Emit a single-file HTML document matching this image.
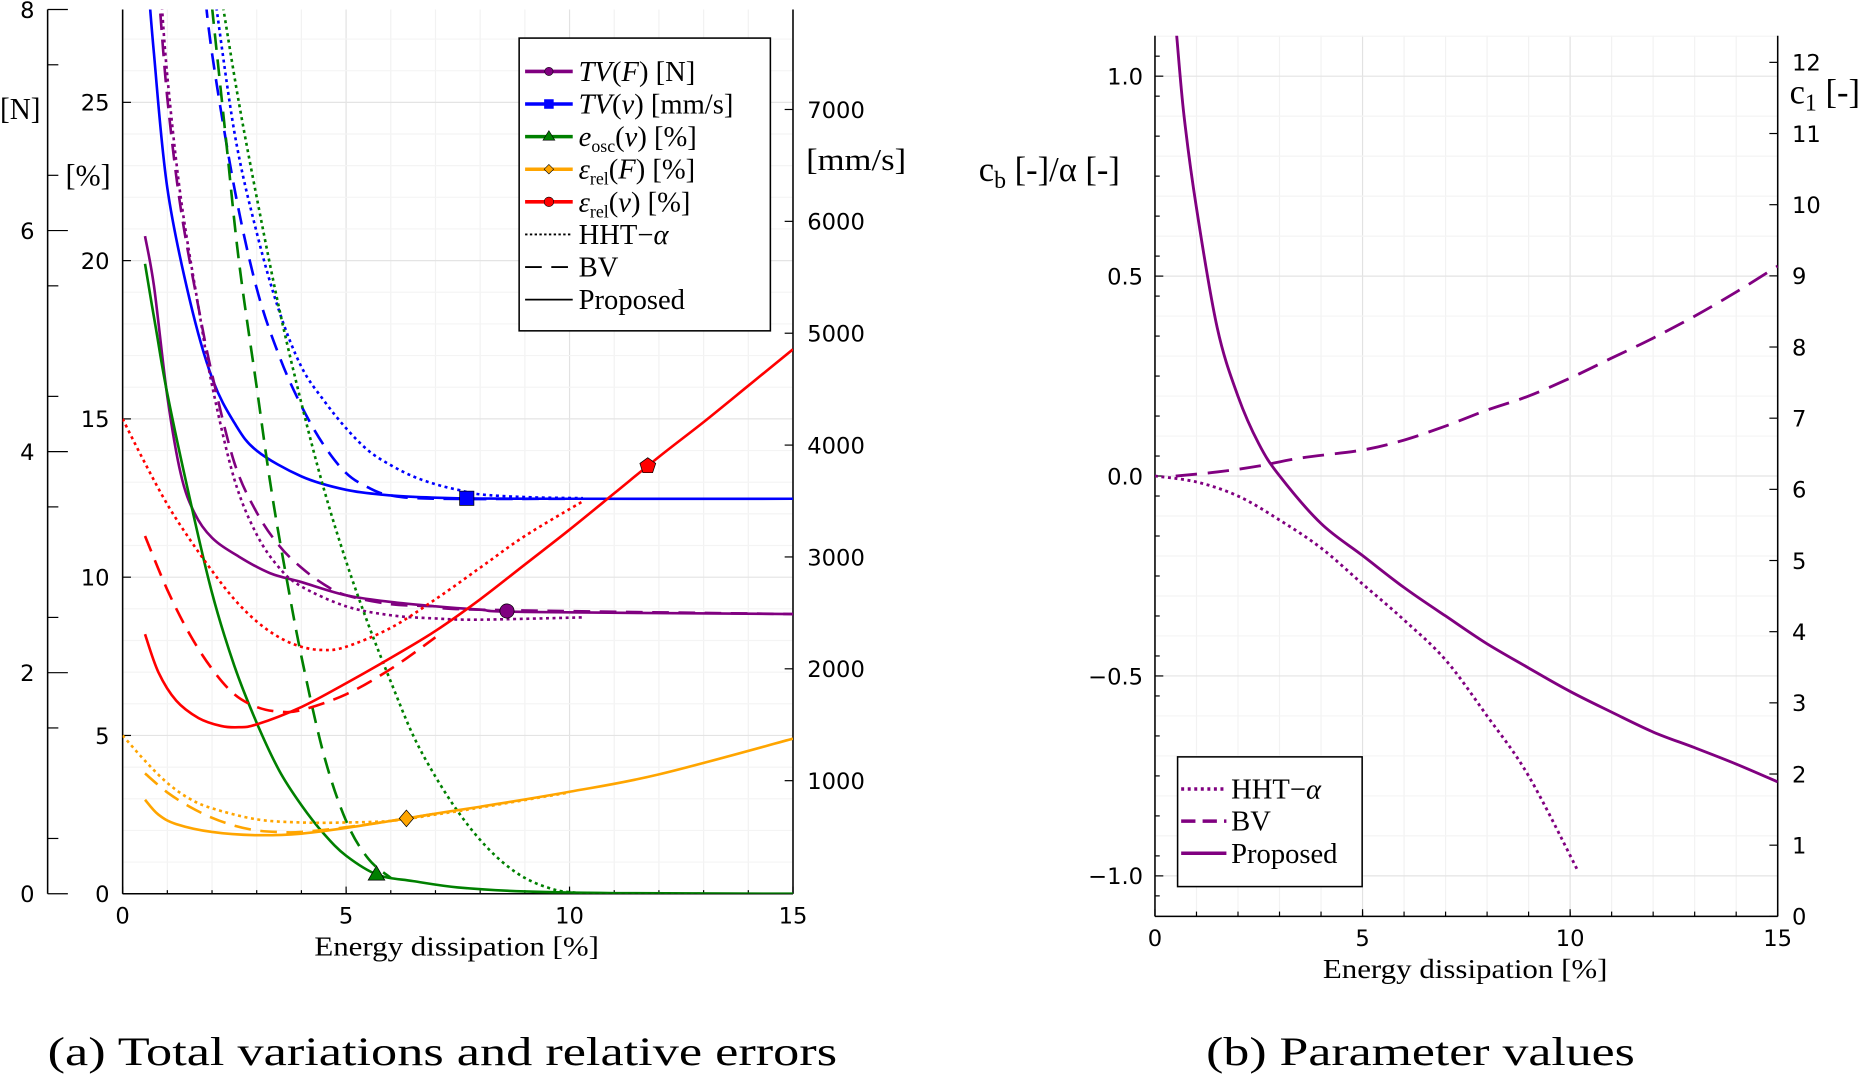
<!DOCTYPE html>
<html><head><meta charset="utf-8"><style>
html,body{margin:0;padding:0;background:#fff;}
svg{display:block;}
.tk{font-family:"DejaVu Sans","Liberation Sans",sans-serif;font-size:19px;fill:#000;}
.sf{font-family:"Liberation Serif","DejaVu Serif",serif;fill:#000;}
</style></head><body>
<svg id="chart" width="1867" height="1077" viewBox="0 0 1568 905" preserveAspectRatio="none" xmlns="http://www.w3.org/2000/svg">
<defs>
<clipPath id="clipA"><rect x="103" y="8" width="563" height="743"/></clipPath>
<clipPath id="clipB"><rect x="970" y="30" width="523" height="740"/></clipPath>
</defs>
<g id="gA"></g>
<g id="gB"></g>
<text class="sf" x="40" y="895" font-size="34" textLength="663" lengthAdjust="spacingAndGlyphs">(a) Total variations and relative errors</text>
<text class="sf" x="1013" y="895" font-size="34" textLength="360" lengthAdjust="spacingAndGlyphs">(b) Parameter values</text>
</svg>
<script>
// ---- Panel A data ----
const xTicksA = [0,5,10,15];
const nTicks = [0,2,4,6,8];
const pctTicks = [0,5,10,15,20,25];
const mmTicks = [1000,2000,3000,4000,5000,6000,7000];
const tvvProp = [[0.5,8500],[0.7,7500],[1,6300],[1.5,5300],[2,4600],[2.5,4200],[3,3950],[4,3720],[5,3600],[6,3550],[7,3530],[8,3522],[10,3520],[15,3520]];
const tvvBV = [[1.8,8200],[2,7500],[2.5,6300],[3,5400],[3.5,4800],[4,4350],[4.5,4000],[5,3750],[5.5,3620],[6,3550],[7,3520],[10,3520]];
const tvvHHT = [[2,8200],[2.5,6800],[3,5900],[3.5,5200],[4,4700],[4.5,4400],[5,4150],[5.5,3950],[6,3820],[6.5,3720],[7,3650],[7.5,3600],[8,3560],[9,3535],[10.3,3525]];
const tvfProp = [[0.5,5.95],[0.7,5.5],[1,4.5],[1.3,3.8],[1.6,3.45],[2,3.22],[2.6,3.05],[3.3,2.9],[4,2.82],[5,2.7],[6,2.64],[7,2.6],[8,2.57],[9,2.55],[15,2.53]];
const tvfBV = [[0.8,8.2],[1,7.2],[1.3,6.2],[1.7,5.3],[2,4.7],[2.5,3.9],[3,3.45],[3.5,3.15],[4,2.95],[4.5,2.8],[5,2.7],[6,2.62],[7,2.6],[8,2.57],[15,2.53]];
const tvfHHT = [[0.85,8.2],[1,7.4],[1.3,6.3],[1.7,5.3],[2,4.6],[2.5,3.75],[3,3.25],[3.5,2.95],[4,2.78],[5,2.6],[6,2.52],[7,2.49],[8,2.48],[10.3,2.5]];
const oscProp = [[0.5,19.9],[0.75,17.8],[1,15.8],[1.5,12.5],[2,9.5],[2.5,7.2],[3,5.4],[3.5,3.9],[4,2.8],[4.5,1.9],[5,1.2],[5.7,0.6],[6.5,0.4],[7.5,0.2],[9,0.07],[11,0.02],[15,0]];
const oscBV = [[2,28],[2.3,24],[2.6,20],[3,16],[3.3,13],[3.6,10.5],[4,7.5],[4.5,4.4],[5,2.3],[5.5,1.1],[6,0.5]];
const oscHHT = [[2.25,28],[2.6,25],[3,22],[3.5,18.5],[4,15.5],[4.5,12.8],[5,10.5],[5.5,8.5],[6,6.7],[6.5,5],[7,3.7],[7.5,2.6],[8,1.7],[8.5,1.0],[9,0.5],[9.5,0.2],[10,0.05],[11,0],[13,0]];
const relFProp = [[0.5,2.97],[0.8,2.5],[1.2,2.2],[2,1.95],[3,1.85],[4,1.9],[5,2.08],[6,2.3],[7,2.53],[8,2.75],[10,3.22],[12,3.77],[15,4.9]];
const relFBV = [[0.5,3.8],[1,3.2],[1.5,2.75],[2,2.4],[2.5,2.15],[3,2.0],[3.5,1.95],[4,1.95],[5,2.1],[6,2.3],[7,2.53]];
const relFHHT = [[0,5],[0.5,4.2],[1,3.5],[1.5,3.0],[2,2.7],[3,2.35],[4,2.25],[5,2.25],[6,2.3],[7,2.5],[8,2.72],[10,3.2]];
const relVProp = [[0.5,8.2],[0.8,7.0],[1.2,6.1],[1.7,5.55],[2.2,5.3],[2.6,5.26],[3,5.35],[4,5.9],[5,6.65],[6,7.45],[7,8.3],[8,9.3],[9,10.4],[10,11.5],[11,12.65],[12,13.8],[13,14.9],[14,16.05],[15,17.2]];
const relVBV = [[0.5,11.3],[1,9.6],[1.5,8.2],[2,7.1],[2.5,6.3],[3,5.9],[3.5,5.75],[4,5.8],[5,6.3],[6,7.1],[7,8.1]];
const relVHHT = [[0,15],[0.5,13.6],[1,12.3],[1.5,11.2],[2,10.2],[2.5,9.3],[3,8.6],[3.5,8.1],[4,7.8],[4.5,7.7],[5,7.8],[6,8.4],[7,9.3],[8,10.3],[9,11.3],[10.3,12.4]];
const markersX = [8.6,7.7,5.68,6.35,11.75];
// ---- Panel B data ----
const xTicksB = [0,5,10,15];
const leftTicksB = [-1.0,-0.5,0.0,0.5,1.0];
const c1Ticks = [0,1,2,3,4,5,6,7,8,9,10,11,12];
const cbHHT = [[0,0],[1,-0.015],[2,-0.05],[3,-0.11],[4,-0.18],[5,-0.27],[6,-0.36],[7,-0.46],[8,-0.6],[9,-0.75],[10.2,-0.99]];
const cbBV = [[0.5,0],[1.5,0.01],[2.5,0.025],[3.5,0.045],[5,0.065],[6,0.09],[7,0.125],[8,0.165],[9,0.2],[10,0.245],[11,0.295],[12,0.345],[13,0.4],[14,0.46],[15,0.525]];
const c1Prop = [[0.52,12.4],[0.7,11.25],[1,9.95],[1.5,8.27],[2,7.31],[2.5,6.64],[3,6.19],[4,5.52],[5,5.07],[6,4.62],[7,4.22],[8,3.83],[9,3.49],[10,3.16],[11,2.87],[12,2.59],[13,2.37],[14,2.14],[15,1.89]];

const NS="http://www.w3.org/2000/svg";
function mk(tag,attrs,parent){const e=document.createElementNS(NS,tag);for(const k in attrs)e.setAttribute(k,attrs[k]);parent.appendChild(e);return e;}
const gA=document.getElementById('gA'), gB=document.getElementById('gB');
const xA=v=>103+v*563/15;
const yN=v=>751-v*(743/8);
const yP=v=>751-v*26.6;
const yM=v=>750-v*0.094;
const xB=v=>970+v*523/15;
const yL=v=>400-v*336;
const yC=v=>770-v*59.8;

function pathD(arr,fx,fy){
  const P=arr.map(p=>[fx(p[0]),fy(p[1])]);
  let d='M'+P[0][0].toFixed(1)+' '+P[0][1].toFixed(1);
  for(let i=0;i<P.length-1;i++){
    const p0=P[Math.max(0,i-1)],p1=P[i],p2=P[i+1],p3=P[Math.min(P.length-1,i+2)];
    const c1=[p1[0]+(p2[0]-p0[0])/6,p1[1]+(p2[1]-p0[1])/6];
    const c2=[p2[0]-(p3[0]-p1[0])/6,p2[1]-(p3[1]-p1[1])/6];
    d+=' C'+c1[0].toFixed(1)+' '+c1[1].toFixed(1)+' '+c2[0].toFixed(1)+' '+c2[1].toFixed(1)+' '+p2[0].toFixed(1)+' '+p2[1].toFixed(1);
  }
  return d;
}
function interp(arr,x){for(let i=1;i<arr.length;i++){if(x<=arr[i][0]){const a=arr[i-1],b=arr[i];return a[1]+(b[1]-a[1])*(x-a[0])/(b[0]-a[0]);}}return arr[arr.length-1][1];}

const gridA=mk('g',{},gA);


for(let v=0;v<=15;v++){mk('line',{x1:xA(v),x2:xA(v),y1:8,y2:751,stroke:v%5?'#f2f2f2':'#e2e2e2','stroke-width':1},gridA);}
for(let v=0;v<=27;v++){mk('line',{x1:103,x2:666,y1:yP(v),y2:yP(v),stroke:v%5?'#f4f4f4':'#e4e4e4','stroke-width':1},gridA);}
mk('line',{x1:103,x2:103,y1:8,y2:751,stroke:'#000','stroke-width':1.3},gA);
mk('line',{x1:103,x2:666,y1:751,y2:751,stroke:'#000','stroke-width':1.3},gA);
mk('line',{x1:666,x2:666,y1:8,y2:751,stroke:'#000','stroke-width':1.3},gA);
mk('line',{x1:40,x2:40,y1:8,y2:751,stroke:'#000','stroke-width':1.3},gA);
xTicksA.forEach(v=>{mk('line',{x1:xA(v),x2:xA(v),y1:751,y2:745,stroke:'#000'},gA);const t=mk('text',{x:xA(v),y:776,'text-anchor':'middle',class:'tk'},gA);t.textContent=v;});
for(let v=1;v<15;v++) mk('line',{x1:xA(v),x2:xA(v),y1:751,y2:748,stroke:'#000'},gA);
nTicks.forEach(v=>{mk('line',{x1:40,x2:57,y1:yN(v),y2:yN(v),stroke:'#000'},gA);const t=mk('text',{x:29,y:yN(v)+7,'text-anchor':'end',class:'tk'},gA);t.textContent=v;});
for(let v=0.5;v<8;v+=1) mk('line',{x1:40,x2:49,y1:yN(v),y2:yN(v),stroke:'#000'},gA);
pctTicks.forEach(v=>{mk('line',{x1:103,x2:110,y1:yP(v),y2:yP(v),stroke:'#000'},gA);const t=mk('text',{x:92,y:yP(v)+7,'text-anchor':'end',class:'tk'},gA);t.textContent=v;});
mmTicks.forEach(v=>{mk('line',{x1:659,x2:666,y1:yM(v),y2:yM(v),stroke:'#000'},gA);const t=mk('text',{x:678,y:yM(v)+7,'text-anchor':'start',class:'tk'},gA);t.textContent=v;});
[['[N]',0,100,'n-axis-title',34],['[%]',55,156,'pct-axis-title',38],['[mm/s]',677,143,'mms-axis-title',84]].forEach(a=>{const t=mk('text',{x:a[1],y:a[2],class:'sf','font-size':26,textLength:a[4],lengthAdjust:'spacingAndGlyphs'},gA);t.textContent=a[0];});
const xtA=mk('text',{x:264,y:803,class:'sf','font-size':23,textLength:239,lengthAdjust:'spacingAndGlyphs'},gA);xtA.textContent='Energy dissipation [%]';



const DOT='2.5,3', DASH='14,8';
const plotA=mk('g',{'clip-path':'url(#clipA)'},gA);
const seriesA=[
 [tvvHHT,yM,'#0000ff',DOT,'tvv-hht'],[tvvBV,yM,'#0000ff',DASH,'tvv-bv'],[tvvProp,yM,'#0000ff','','tvv-proposed'],
 [tvfHHT,yN,'#800080',DOT,'tvf-hht'],[tvfBV,yN,'#800080',DASH,'tvf-bv'],[tvfProp,yN,'#800080','','tvf-proposed'],
 [oscHHT,yP,'#008000',DOT,'osc-hht'],[oscBV,yP,'#008000',DASH,'osc-bv'],[oscProp,yP,'#008000','','osc-proposed'],
 [relFHHT,yP,'#ffa500',DOT,'relf-hht'],[relFBV,yP,'#ffa500',DASH,'relf-bv'],[relFProp,yP,'#ffa500','','relf-proposed'],
 [relVHHT,yP,'#ff0000',DOT,'relv-hht'],[relVBV,yP,'#ff0000',DASH,'relv-bv'],[relVProp,yP,'#ff0000','','relv-proposed']];
seriesA.forEach(s=>{const p=mk('path',{d:pathD(s[0],xA,s[1]),fill:'none',stroke:s[2],'stroke-width':2.2,'stroke-dasharray':s[3]||'none'},plotA);});
const mTv=mk('circle',{cx:xA(markersX[0]),cy:yN(interp(tvfProp,markersX[0])),r:6,fill:'#800080',stroke:'#000','stroke-width':0.6},gA);


const mq=mk('rect',{x:xA(markersX[1])-6,y:yM(interp(tvvProp,markersX[1]))-6,width:12,height:12,fill:'#0000ff',stroke:'#000','stroke-width':0.6},gA);


const tx=xA(markersX[2]),ty=yP(interp(oscProp,markersX[2]));
const mt=mk('polygon',{points:`${tx},${ty-7} ${tx-7},${ty+5} ${tx+7},${ty+5}`,fill:'#008000',stroke:'#000','stroke-width':0.6},gA);


const dx=xA(markersX[3]),dy=yP(interp(relFProp,markersX[3]));
const md=mk('polygon',{points:`${dx},${dy-7} ${dx+6},${dy} ${dx},${dy+7} ${dx-6},${dy}`,fill:'#ffa500',stroke:'#000','stroke-width':0.6},gA);


const px=xA(markersX[4]),py=yP(interp(relVProp,markersX[4]));
let pts=[];for(let i=0;i<5;i++){const a=-Math.PI/2+i*2*Math.PI/5;pts.push((px+7*Math.cos(a)).toFixed(1)+','+(py+7*Math.sin(a)).toFixed(1));}
const mp=mk('polygon',{points:pts.join(' '),fill:'#ff0000',stroke:'#000','stroke-width':0.6},gA);



const lgA=mk('g',{},gA);


mk('rect',{x:436,y:32,width:211,height:246,fill:'#fff',stroke:'#000','stroke-width':1.3},lgA);
const legA=[['#800080','','circle',116],['#0000ff','','square',154],['#008000','','tri',106],['#ffa500','','diamond',110],['#ff0000','','pent',104],['#000','2,2','',94],['#000',DASH,'',38],['#000','','',104]];
const legHtml=['<tspan font-style="italic">TV</tspan>(<tspan font-style="italic">F</tspan>) [N]','<tspan font-style="italic">TV</tspan>(<tspan font-style="italic">v</tspan>) [mm/s]','<tspan font-style="italic">e</tspan><tspan font-size="15" dy="5">osc</tspan><tspan dy="-5">(</tspan><tspan font-style="italic">v</tspan>) [%]','<tspan font-style="italic">ε</tspan><tspan font-size="15" dy="5">rel</tspan><tspan dy="-5">(</tspan><tspan font-style="italic">F</tspan>) [%]','<tspan font-style="italic">ε</tspan><tspan font-size="15" dy="5">rel</tspan><tspan dy="-5">(</tspan><tspan font-style="italic">v</tspan>) [%]','HHT−<tspan font-style="italic">α</tspan>','BV','Proposed'];
legA.forEach((l,i)=>{const y=60+i*27.4;const g=mk('g',{},lgA);
 mk('line',{x1:441,x2:481,y1:y,y2:y,stroke:l[0],'stroke-width':i<5?3:1.5,'stroke-dasharray':l[1]||'none'},g);
 const c=461;
 if(l[2]==='circle')mk('circle',{cx:c,cy:y,r:3.5,fill:l[0],stroke:'#000','stroke-width':0.5},g);
 if(l[2]==='square')mk('rect',{x:c-4,y:y-4,width:8,height:8,fill:l[0]},g);
 if(l[2]==='tri')mk('polygon',{points:`${c},${y-5} ${c-5},${y+3} ${c+5},${y+3}`,fill:l[0],stroke:'#000','stroke-width':0.5},g);
 if(l[2]==='diamond')mk('polygon',{points:`${c},${y-4} ${c+4},${y} ${c},${y+4} ${c-4},${y}`,fill:l[0],stroke:'#000','stroke-width':0.5},g);
 if(l[2]==='pent')mk('circle',{cx:c,cy:y,r:4,fill:l[0],stroke:'#000','stroke-width':0.5},g);
 const t=mk('text',{x:486,y:y+8,class:'sf','font-size':24},g);t.innerHTML=legHtml[i];});

const gridB=mk('g',{},gB);


for(let v=0;v<=15;v++){mk('line',{x1:xB(v),x2:xB(v),y1:30,y2:770,stroke:v%5?'#f2f2f2':'#e2e2e2'},gridB);}
for(let v=-1.1;v<=1.11;v+=0.1){mk('line',{x1:970,x2:1493,y1:yL(v),y2:yL(v),stroke:Math.abs(Math.round(v*10)%5)?'#f4f4f4':'#e4e4e4'},gridB);}
mk('line',{x1:970,x2:970,y1:30,y2:770,stroke:'#000','stroke-width':1.3},gB);
mk('line',{x1:970,x2:1493,y1:770,y2:770,stroke:'#000','stroke-width':1.3},gB);
mk('line',{x1:1493,x2:1493,y1:30,y2:770,stroke:'#000','stroke-width':1.3},gB);
xTicksB.forEach(v=>{mk('line',{x1:xB(v),x2:xB(v),y1:770,y2:764,stroke:'#000'},gB);const t=mk('text',{x:xB(v),y:795,'text-anchor':'middle',class:'tk'},gB);t.textContent=v;});
for(let v=1;v<15;v++) mk('line',{x1:xB(v),x2:xB(v),y1:770,y2:766,stroke:'#000'},gB);
leftTicksB.forEach(v=>{mk('line',{x1:970,x2:977,y1:yL(v),y2:yL(v),stroke:'#000'},gB);const t=mk('text',{x:960,y:yL(v)+7,'text-anchor':'end',class:'tk'},gB);t.textContent=(v<0?'−':'')+Math.abs(v).toFixed(1);});
for(let v=-1.05;v<1.1;v+=0.1) mk('line',{x1:970,x2:974,y1:yL(v),y2:yL(v),stroke:'#000'},gB);
c1Ticks.forEach(v=>{mk('line',{x1:1486,x2:1493,y1:yC(v),y2:yC(v),stroke:'#000'},gB);const t=mk('text',{x:1505,y:yC(v)+7,class:'tk'},gB);t.textContent=v;});
const tl=mk('text',{x:822,y:152,class:'sf','font-size':29},gB);tl.innerHTML='c<tspan font-size="20" dy="6">b</tspan><tspan dy="-6"> [-]/α [-]</tspan>';


const tr=mk('text',{x:1503,y:87,class:'sf','font-size':29},gB);tr.innerHTML='c<tspan font-size="20" dy="6">1</tspan><tspan dy="-6"> [-]</tspan>';


const xtB=mk('text',{x:1111,y:822,class:'sf','font-size':23,textLength:239,lengthAdjust:'spacingAndGlyphs'},gB);xtB.textContent='Energy dissipation [%]';


const plotB=mk('g',{'clip-path':'url(#clipB)'},gB);
[[cbHHT,yL,'2.5,3','cb-hht'],[cbBV,yL,'18,9','cb-bv'],[c1Prop,yC,'','c1-proposed']].forEach(s=>{const p=mk('path',{d:pathD(s[0],xB,s[1]),fill:'none',stroke:'#800080','stroke-width':2.4,'stroke-dasharray':s[2]||'none'},plotB);});
const lgB=mk('g',{},gB);


mk('rect',{x:989,y:636,width:155,height:109,fill:'#fff',stroke:'#000','stroke-width':1.3},lgB);
[['2.5,3','HHT−<tspan font-style="italic">α</tspan>'],['12,6','BV'],['','Proposed']].forEach((l,i)=>{const y=663+i*27;const g=mk('g',{},lgB);
 mk('line',{x1:992,x2:1030,y1:y,y2:y,stroke:'#800080','stroke-width':3,'stroke-dasharray':l[0]||'none'},g);
 const t=mk('text',{x:1034,y:y+8,class:'sf','font-size':24},g);t.innerHTML=l[1];});
</script>
</body></html>
